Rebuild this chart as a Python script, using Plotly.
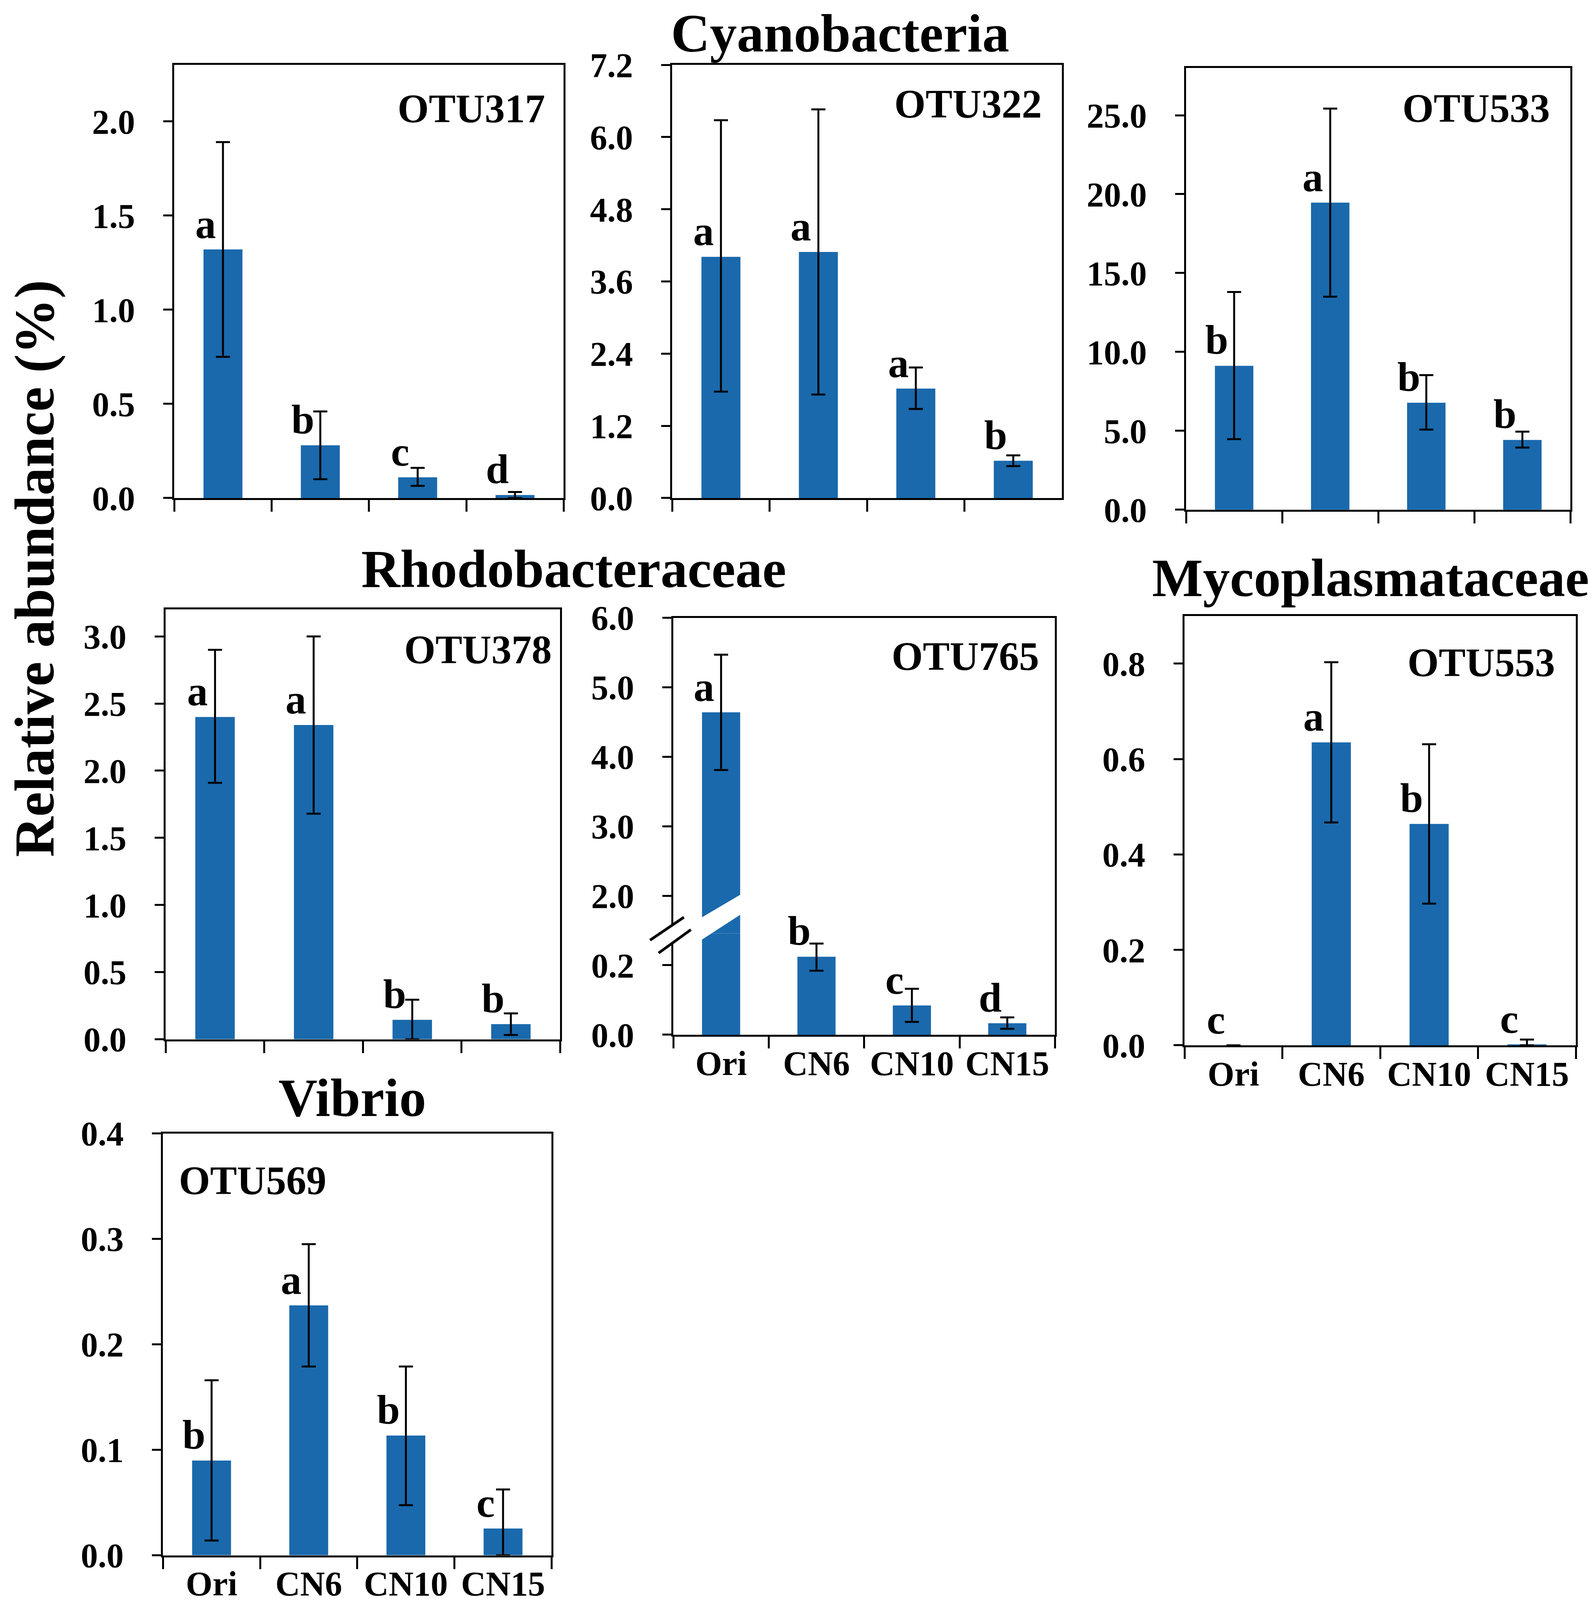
import plotly.graph_objects as go

# treatment groups shared by every panel
groups = ["Ori", "CN6", "CN10", "CN15"]

# Cyanobacteria
otu317_mean = [1.32, 0.28, 0.11, 0.016]
otu317_hi = [1.89, 0.46, 0.16, 0.032]
otu317_lo = [0.75, 0.10, 0.065, 0.0]
otu317_sig = ["a", "b", "c", "d"]

otu322_mean = [4.01, 4.09, 1.82, 0.62]
otu322_hi = [6.28, 6.46, 2.17, 0.71]
otu322_lo = [1.77, 1.72, 1.48, 0.53]
otu322_sig = ["a", "a", "a", "b"]

otu533_mean = [9.12, 19.46, 6.78, 4.42]
otu533_hi = [13.8, 25.42, 8.53, 4.95]
otu533_lo = [4.47, 13.5, 5.08, 3.94]
otu533_sig = ["b", "a", "b", "b"]

# Rhodobacteraceae
otu378_mean = [2.40, 2.34, 0.145, 0.113]
otu378_hi = [2.90, 3.00, 0.295, 0.193]
otu378_lo = [1.91, 1.68, 0.0, 0.032]
otu378_sig = ["a", "a", "b", "b"]

otu765_mean = [4.64, 0.224, 0.084, 0.033]
otu765_hi = [5.47, 0.262, 0.132, 0.050]
otu765_lo = [3.81, 0.184, 0.037, 0.017]
otu765_sig = ["a", "b", "c", "d"]

# Mycoplasmataceae
otu553_mean = [0.0, 0.635, 0.464, 0.002]
otu553_hi = [0.0, 0.803, 0.631, 0.012]
otu553_lo = [0.0, 0.467, 0.297, 0.0]
otu553_sig = ["c", "a", "b", "c"]

# Vibrio
otu569_mean = [0.0898, 0.237, 0.1135, 0.0254]
otu569_hi = [0.166, 0.295, 0.179, 0.0624]
otu569_lo = [0.014, 0.179, 0.0475, 0.0]
otu569_sig = ["b", "a", "b", "c"]

W, H = 4079, 4248
BLUE = "#1A69AC"
FONT = "Liberation Serif"
TICKFONT = dict(family=FONT, size=88, color="black", weight="bold")

# broken axis of OTU765
E_LOW_TOP = 0.291
E_HIGH_BOTTOM = 1.458


def px(x):
    return x / W


def py(y):
    return 1 - y / H


def x_axis(l, r, anchor, labels, mirror=True):
    return dict(domain=[px(l), px(r)], anchor=anchor, type="category",
                categoryorder="array", categoryarray=groups, range=[-0.5, 3.5],
                showline=True, linecolor="black", linewidth=5, mirror=mirror,
                ticks="outside", tickson="boundaries", ticklen=30, tickwidth=5,
                tickcolor="black", showticklabels=labels, tickfont=TICKFONT,
                ticklabelstandoff=-8, showgrid=False, zeroline=False, automargin=False)


def y_axis(t, b, anchor, rng, dtick):
    return dict(domain=[py(b), py(t)], anchor=anchor, range=rng, tick0=0,
                dtick=dtick, tickformat=".1f", showline=True, linecolor="black",
                linewidth=5, mirror=True, ticks="outside", ticklen=23, tickwidth=5,
                tickcolor="black", tickfont=TICKFONT, ticklabelstandoff=55,
                showgrid=False, zeroline=False, automargin=False)


def add_bars(fig, mean, hi, lo, xa, ya, keep=None):
    keep = keep or [True] * len(mean)
    up = [h - m if k else None for h, m, k in zip(hi, mean, keep)]
    dn = [m - l if k else None for m, l, k in zip(mean, lo, keep)]
    fig.add_trace(go.Bar(
        x=groups, y=mean, xaxis=xa, yaxis=ya, width=0.4,
        marker=dict(color=BLUE, line=dict(width=0)),
        error_y=dict(type="data", symmetric=False, array=up, arrayminus=dn,
                     color="black", thickness=5, width=18),
        showlegend=False, hoverinfo="skip"))


def add_letters(fig, mean, sig, xa, ya, keep=None):
    for i, s in enumerate(sig):
        if keep is not None and not keep[i]:
            continue
        fig.add_annotation(x=i - 0.18, y=mean[i], xref=xa, yref=ya, text=f"<b>{s}</b>",
                           showarrow=False, xanchor="center", yanchor="bottom", yshift=5,
                           font=dict(family=FONT, size=106, color="black"))


def label(fig, text, x, y, anchor="center", size=103):
    fig.add_annotation(x=px(x), y=py(y), xref="paper", yref="paper", text=f"<b>{text}</b>",
                       showarrow=False, xanchor=anchor, yanchor="middle",
                       font=dict(family=FONT, size=size, color="black"))


fig = go.Figure()
layout = {}

# simple panels: data, axis ids, box (left, top, right, bottom), y range, dtick, x labels
simple = [
    (otu317_mean, otu317_hi, otu317_lo, otu317_sig, "", (440, 164, 1441, 1314), [0, 2.3], 0.5, False),
    (otu322_mean, otu322_hi, otu322_lo, otu322_sig, "2", (1720, 164, 2722, 1314), [0, 7.2001], 1.2, False),
    (otu533_mean, otu533_hi, otu533_lo, otu533_sig, "3", (3041, 172, 4029, 1345), [0, 28], 5, False),
    (otu378_mean, otu378_hi, otu378_lo, otu378_sig, "4", (418, 1610, 1432, 2751), [0, 3.2], 0.5, False),
    (otu553_mean, otu553_hi, otu553_lo, otu553_sig, "7", (3037, 1627, 4043, 2767), [0, 0.9], 0.2, True),
    (otu569_mean, otu569_hi, otu569_lo, otu569_sig, "8", (411, 3001, 1410, 4121), [0, 0.40001], 0.1, True),
]
for mean, hi, lo, sig, n, (l, t, r, b), rng, dt, lab in simple:
    layout["xaxis" + n] = x_axis(l, r, "y" + n, lab)
    layout["yaxis" + n] = y_axis(t, b, "x" + n, rng, dt)
    add_bars(fig, mean, hi, lo, "x" + n, "y" + n)
    add_letters(fig, mean, sig, "x" + n, "y" + n)

# OTU765 with a broken y axis: lower part (x5, y5) and upper part (x6, y6)
e_l, e_t, e_r, e_b, e_cut = 1723, 1632, 2704, 2739, 2470
layout["xaxis5"] = x_axis(e_l, e_r, "y5", True, mirror=False)
layout["yaxis5"] = y_axis(e_cut, e_b, "x5", [0, E_LOW_TOP], 0.2)
layout["xaxis6"] = dict(x_axis(e_l, e_r, "y6", False, mirror=False), side="top", ticks="")
layout["yaxis6"] = y_axis(e_t, e_cut, "x6", [E_HIGH_BOTTOM, 6.0001], 1)
low = [m <= E_LOW_TOP for m in otu765_mean]
high = [not k for k in low]
add_bars(fig, otu765_mean, otu765_hi, otu765_lo, "x5", "y5", keep=low)
add_bars(fig, [m if k else None for m, k in zip(otu765_mean, high)],
         otu765_hi, otu765_lo, "x6", "y6", keep=high)
add_letters(fig, otu765_mean, otu765_sig, "x5", "y5", keep=low)
add_letters(fig, otu765_mean, otu765_sig, "x6", "y6", keep=high)


def poly(points, fill=None, line=None, width=0):
    path = "M " + " L ".join(f"{px(x)},{py(y)}" for x, y in points) + (" Z" if fill else "")
    return dict(type="path", xref="paper", yref="paper", path=path,
                fillcolor=fill or "rgba(0,0,0,0)", line=dict(color=line or "rgba(0,0,0,0)", width=width),
                layer="above")


shapes = [
    # white gap across the first bar
    poly([(1785, 2434), (1900, 2364), (1900, 2417), (1785, 2494)], fill="white"),
    # gap in the left spine between the break marks
    poly([(1663, 2488), (1750, 2427), (1768, 2460), (1685, 2522)], fill="white"),
    poly([(1663, 2488), (1750, 2427)], line="black", width=7),
    poly([(1685, 2522), (1768, 2460)], line="black", width=7),
]

# OTU names inside the panels
label(fig, "OTU317", 1395, 280, "right")
label(fig, "OTU322", 2672, 268, "right")
label(fig, "OTU533", 3979, 279, "right")
label(fig, "OTU378", 1413, 1716, "right")
label(fig, "OTU765", 2665, 1734, "right")
label(fig, "OTU553", 3992, 1751, "right")
label(fig, "OTU569", 450, 3126, "left")

# family titles
label(fig, "Cyanobacteria", 2151, 80, size=138)
label(fig, "Rhodobacteraceae", 1467, 1502, size=138)
label(fig, "Mycoplasmataceae", 3515, 1526, size=138)
label(fig, "Vibrio", 898, 2906, size=138)

# shared y axis title
fig.add_annotation(x=px(82), y=py(1501), xref="paper", yref="paper", text="<b>Relative abundance (%)</b>",
                   textangle=-90, showarrow=False, xanchor="center", yanchor="middle",
                   font=dict(family=FONT, size=143, color="black"))

fig.update_layout(**layout)
fig.update_layout(autosize=True, margin=dict(l=0, r=0, t=0, b=0),
                  plot_bgcolor="white", paper_bgcolor="white", showlegend=False,
                  shapes=shapes, barmode="overlay")

# fill the browser viewport so the whole page is photographed
fig.write_html("out.html", default_width="100%", default_height="100vh")
